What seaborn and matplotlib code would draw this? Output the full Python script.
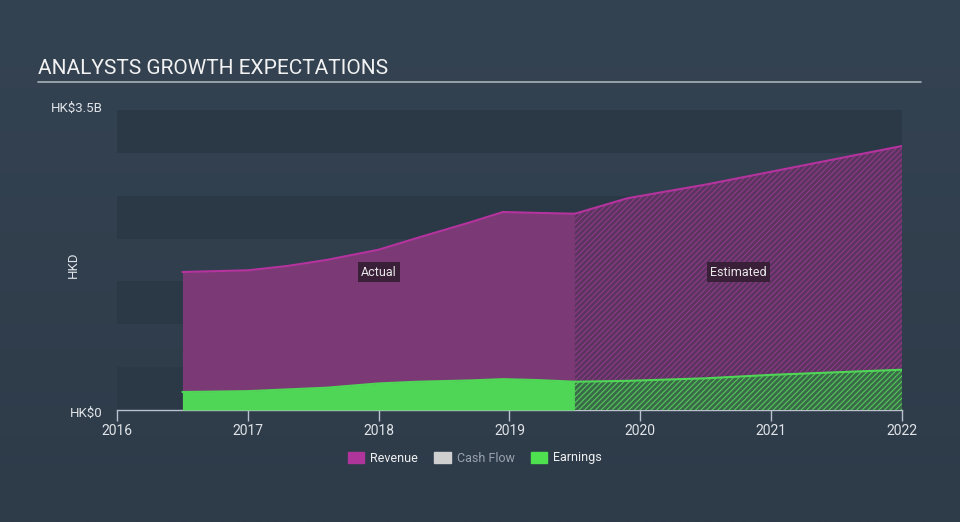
import numpy as np
import pandas as pd
import matplotlib
matplotlib.use("Agg")
import matplotlib.pyplot as plt
from matplotlib.patches import Patch
import seaborn as sns

# values in HK$ billions
actual_years = [2016.5, 2016.75, 2017.0, 2017.3, 2017.6, 2018.0, 2018.3, 2018.7, 2018.95, 2019.2, 2019.5]
actual_revenue = [1.61, 1.62, 1.63, 1.68, 1.75, 1.87, 2.01, 2.19, 2.31, 2.30, 2.29]
actual_earnings = [0.21, 0.215, 0.22, 0.24, 0.26, 0.31, 0.33, 0.345, 0.36, 0.35, 0.33]

est_years = [2019.5, 2019.9, 2020.5, 2021.0, 2021.5, 2022.0]
est_revenue = [2.29, 2.47, 2.63, 2.78, 2.93, 3.08]
est_earnings = [0.33, 0.34, 0.37, 0.41, 0.44, 0.47]

year_ticks = [2016, 2017, 2018, 2019, 2020, 2021, 2022]
y_ticks = [0, 3.5]
y_tick_labels = ["HK\\$0", "HK\\$3.5B"]

BG = "#323f4e"
REV_LINE = "#b5339e"
REV_FILL = "#7b3a75"
EARN = "#50d656"

sns.set_theme(style="dark")
plt.rcParams["font.family"] = ["Roboto", "DejaVu Sans"]

fig = plt.figure(figsize=(9.6, 5.22), dpi=100)
fig.patch.set_facecolor(BG)

# soft background gradient
bg = fig.add_axes([0, 0, 1, 1], zorder=-10)
grad = np.linspace(0, 1, 256).reshape(-1, 1)
bg.imshow(grad, aspect="auto", extent=[0, 1, 0, 1],
          cmap=matplotlib.colors.LinearSegmentedColormap.from_list("g", ["#344352", "#2e3b49"]))
bg.axis("off")

ax = fig.add_axes([117 / 960, 1 - 410 / 522, 785 / 960, 300 / 522])
ax.set_facecolor("none")

# alternating horizontal bands
for k in range(7):
    if k % 2 == 0:
        ax.axhspan(k * 0.5, (k + 1) * 0.5, color="#2b3846", lw=0, zorder=0)

act = pd.DataFrame({"year": actual_years, "revenue": actual_revenue, "earnings": actual_earnings})
est = pd.DataFrame({"year": est_years, "revenue": est_revenue, "earnings": est_earnings})

# actual areas
ax.fill_between(act["year"], 0, act["revenue"], color=REV_FILL, lw=0, zorder=2)
ax.fill_between(act["year"], 0, act["earnings"], color=EARN, lw=0, zorder=3)
sns.lineplot(data=act, x="year", y="revenue", color=REV_LINE, lw=1.5, ax=ax, zorder=4)
sns.lineplot(data=act, x="year", y="earnings", color=EARN, lw=1.5, ax=ax, zorder=4)

# estimated areas (hatched)
plt.rcParams["hatch.linewidth"] = 0.8
ax.fill_between(est["year"], 0, est["revenue"], facecolor="#5c3460", edgecolor="#8e3a88",
                hatch="//////", lw=0, zorder=2)
ax.fill_between(est["year"], 0, est["earnings"], facecolor="#3b6a48", edgecolor="#52c85a",
                hatch="//////", lw=0, zorder=3)
sns.lineplot(data=est, x="year", y="revenue", color=REV_LINE, lw=1.5, ax=ax, zorder=4)
sns.lineplot(data=est, x="year", y="earnings", color=EARN, lw=1.5, ax=ax, zorder=4)

ax.set_xlim(2016, 2022)
ax.set_ylim(0, 3.5)
ax.set_xticks(year_ticks)
ax.set_xticklabels([str(y) for y in year_ticks], color="#e0e4e8", fontsize=10)
ax.set_yticks([])
ax.set_xlabel("")
ax.set_ylabel("")
ax.tick_params(axis="x", bottom=True, length=8, width=1, color="#b9c2cc", pad=2)
for s in ["top", "right", "left"]:
    ax.spines[s].set_visible(False)
ax.spines["bottom"].set_color("#b9c2cc")
ax.spines["bottom"].set_linewidth(1)
ax.grid(False)

for v, lab in zip(y_ticks, y_tick_labels):
    ax.text(-0.018, v / 3.5 + (0.005 if v else -0.01), lab, transform=ax.transAxes, ha="right",
            va="center", color="#e0e4e8", fontsize=9.5)
fig.text(73 / 960, 1 - 265 / 522, "HKD", rotation=90, ha="center", va="center",
         color="#e0e4e8", fontsize=9.5)

box = dict(boxstyle="square,pad=0.25", fc="#3a1f38", ec="none")
ax.text(2018.0, 1.61, "Actual", ha="center", va="center", color="#e8e8e8", fontsize=9, bbox=box, zorder=6)
ax.text(2020.75, 1.61, "Estimated", ha="center", va="center", color="#e8e8e8", fontsize=9, bbox=box, zorder=6)

# title and rule
fig.text(38 / 960, 1 - 68 / 522, "ANALYSTS GROWTH EXPECTATIONS", ha="left", va="center",
         color="#f2f2f2", fontsize=15)
fig.add_artist(plt.Line2D([38 / 960, 921 / 960], [1 - 82 / 522] * 2, color="#a9b0b8", lw=1.2))

handles = [Patch(color="#b0359b", label="Revenue"),
           Patch(color="#cfcfcf", label="Cash Flow"),
           Patch(color="#4fe050", label="Earnings")]
leg = fig.legend(handles=handles, loc="center", bbox_to_anchor=(475 / 960, 1 - 458 / 522),
                 ncol=3, frameon=False, fontsize=9, handlelength=1.3, handleheight=1.0,
                 columnspacing=1.3, handletextpad=0.5)
for t, c in zip(leg.get_texts(), ["#f0f0f0", "#9aa3ad", "#f0f0f0"]):
    t.set_color(c)

fig.savefig("out.png", dpi=100, facecolor=fig.get_facecolor())
